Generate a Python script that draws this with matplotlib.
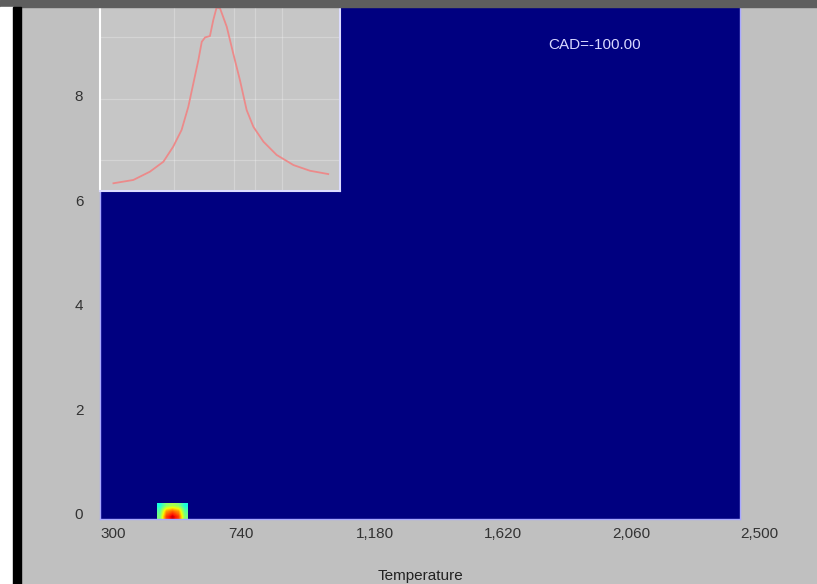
import numpy as np
import matplotlib
matplotlib.use("Agg")
import matplotlib.pyplot as plt
import matplotlib.transforms as mtransforms
from matplotlib.patches import Rectangle

plt.rcParams['font.family'] = ['Liberation Sans', 'DejaVu Sans']

# Main axis ticks
x_ticks = [300, 740, 1180, 1620, 2060, 2500]
x_labels = ["300", "740", "1,180", "1,620", "2,060", "2,500"]
y_ticks = [0, 2, 4, 6, 8]

# Heat blob (temperature range, height range, intensity rows bottom->top)
blob_x = [496, 602]
blob_y = [0.0, 0.3]
blob_vals = np.array([
    [0.50, 0.84, 0.93, 0.84, 0.50],
    [0.46, 0.74, 0.80, 0.74, 0.46],
    [0.38, 0.52, 0.56, 0.52, 0.38],
])

# Inset curve (arbitrary units)
inset_x = [5.6, 13.9, 20.8, 26.4, 30.5, 34.0, 36.8, 38.9, 41.0, 42.4,
           43.8, 45.8, 47.2, 48.6, 50.0, 52.8, 55.5, 58.3, 61.1, 63.9,
           68.1, 73.6, 80.6, 87.5, 95.1]
inset_y = [0.042, 0.060, 0.105, 0.159, 0.241, 0.332, 0.458, 0.585, 0.712, 0.811,
           0.835, 0.842, 0.929, 0.998, 0.993, 0.893, 0.748, 0.603, 0.440, 0.349,
           0.268, 0.196, 0.141, 0.110, 0.092]

cad_text = "CAD=-100.00"

fig = plt.figure(figsize=(8.17, 5.84), dpi=100)
fig.patch.set_facecolor('#c0c0c0')

# window chrome
fig.patches.append(Rectangle((0, 1 - 7 / 584), 1, 7 / 584, transform=fig.transFigure,
                             color='#5e5e5e', zorder=0))
fig.patches.append(Rectangle((0, 0), 13 / 817, 1 - 7 / 584, transform=fig.transFigure,
                             color='white', zorder=0))
fig.patches.append(Rectangle((13 / 817, 0), 8 / 817, 1 - 7 / 584, transform=fig.transFigure,
                             color='black', zorder=0))

ax = fig.add_axes([100 / 817, 65 / 584, 640 / 817, 512 / 584])
ax.set_facecolor(plt.cm.jet(0.0))
ax.imshow(blob_vals, cmap='jet', vmin=0, vmax=1, origin='lower',
          extent=[blob_x[0], blob_x[1], blob_y[0], blob_y[1]],
          interpolation='bilinear', aspect='auto')
ax.set_xlim(300, 2500)
ax.set_ylim(0, 9.8)

ax.set_xticks(x_ticks)
ax.set_xticklabels(x_labels, ha='left')
ax.set_yticks(y_ticks)
ax.set_yticklabels([str(v) for v in y_ticks], va='bottom')
ax.tick_params(length=0, colors='#333333', labelsize=11)
ax.tick_params(axis='x', pad=6)
ax.tick_params(axis='y', pad=12)
# nudge y labels down a few pixels
shift = mtransforms.ScaledTranslation(0, -3 / 100, fig.dpi_scale_trans)
for lbl in ax.get_yticklabels():
    lbl.set_transform(lbl.get_transform() + shift)
for s in ['left', 'bottom', 'right']:
    ax.spines[s].set_color('#a8a8ff')
    ax.spines[s].set_linewidth(1)
ax.spines['top'].set_visible(False)
ax.set_xlabel("Temperature", fontsize=11, color='#222222', labelpad=20)

ax.text(1840, 9.08, cad_text, color='#d8d8ff', fontsize=11, va='center', ha='left')

# Inset
ins = fig.add_axes([100 / 817, (584 - 191) / 584, 240 / 817, 184 / 584])
ins.set_facecolor('#c6c6c6')
ins.plot(inset_x, inset_y, color='#ec8a8a', linewidth=1.3)
ins.set_xlim(0, 100)
ins.set_ylim(0, 1.0)
ins.set_xticks([31, 56, 64.6, 76])
ins.set_yticks([0.168, 0.5, 0.837])
ins.grid(True, color='white', alpha=0.25, linewidth=0.9)
ins.tick_params(length=0, labelbottom=False, labelleft=False)
ins.spines['top'].set_visible(False)
ins.spines['left'].set_color('white')
ins.spines['bottom'].set_color('#dcdcff')
ins.spines['right'].set_color('#dcdcff')
for s in ['left', 'bottom', 'right']:
    ins.spines[s].set_linewidth(1.5)

fig.savefig("out.png", dpi=100, facecolor=fig.get_facecolor())
